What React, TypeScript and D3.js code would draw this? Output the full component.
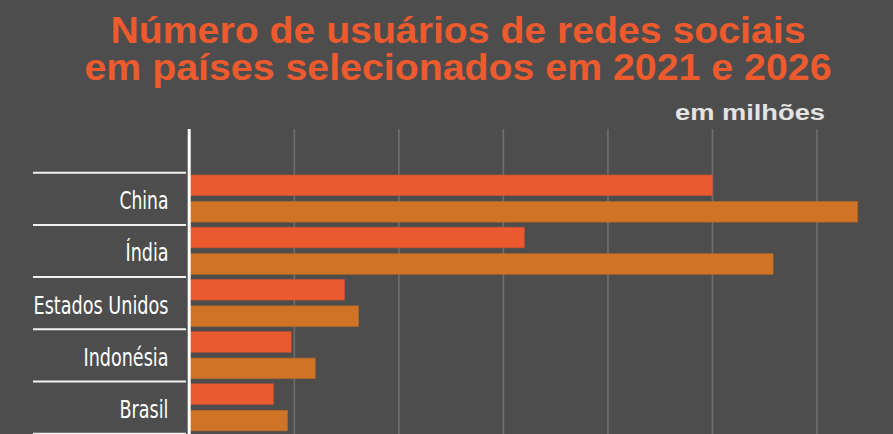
import React from "react";
import * as d3 from "d3";

const countries = ["China", "Índia", "Estados Unidos", "Indonésia", "Brasil"];
const years = ["2021", "2026"];
const values2021 = [1000, 640, 296, 194, 160];
const values2026 = [1278, 1116, 323, 240, 187];
const gridTicks = [200, 400, 600, 800, 1000, 1200];
const titleLines = ["Número de usuários de redes sociais", "em países selecionados em 2021 e 2026"];
const unitLabel = "em milhões";

const W = 893;
const H = 434;
const BG = "#4d4d4d";
const C2021 = "#eb5a2f";
const C2026 = "#cf7427";

export default function App() {
  const x = d3.scaleLinear().domain([0, 1200]).range([189.8, 817]);
  const y = d3.scaleBand<string>().domain(countries).range([172.7, 433.7]).padding(0);
  const inner = d3
    .scaleBand<string>()
    .domain(years)
    .range([2.3, y.bandwidth() - 2.8])
    .paddingInner(0.22);
  const series = [values2021, values2026];
  const colors = [C2021, C2026];
  const labelWidths: Record<string, number> = {
    China: 49,
    "Índia": 43,
    "Estados Unidos": 135,
    "Indonésia": 85,
    Brasil: 49,
  };
  const titleWidths = [695, 747];

  return (
    <svg
      width={W}
      height={H}
      style={{ position: "absolute", left: 0, top: 0, display: "block" }}
    >
      <rect x={0} y={0} width={W} height={H} fill={BG} />
      {titleLines.map((t, i) => (
        <text
          key={t}
          x={458}
          y={43.3 + i * 37}
          textAnchor="middle"
          fontFamily="'Liberation Sans', Arial, sans-serif"
          fontWeight="bold"
          fontSize={37.5}
          fill="#ec5a2e"
          textLength={titleWidths[i]}
          lengthAdjust="spacingAndGlyphs"
        >
          {t}
        </text>
      ))}
      <text
        x={825}
        y={119.5}
        textAnchor="end"
        fontFamily="'Liberation Sans', Arial, sans-serif"
        fontWeight="bold"
        fontSize={22.5}
        fill="#e4e4e4"
        textLength={150}
        lengthAdjust="spacingAndGlyphs"
      >
        {unitLabel}
      </text>
      {gridTicks.map((t) => (
        <line
          key={t}
          x1={x(t)}
          x2={x(t)}
          y1={129}
          y2={H}
          stroke="#6f6f6f"
          strokeWidth={1.6}
        />
      ))}
      {countries.map((c, ci) => (
        <g key={c} transform={`translate(0,${y(c)})`}>
          {series.map((s, si) => (
            <rect
              key={years[si]}
              x={x(0)}
              y={inner(years[si])}
              width={x(s[ci]) - x(0)}
              height={inner.bandwidth()}
              fill={colors[si]}
              stroke={si === 0 ? "#c9502b" : "#b46626"}
              strokeWidth={0.6}
            />
          ))}
          <text
            x={168.5}
            y={y.bandwidth() / 2 + 10.4}
            textAnchor="end"
            fontFamily="'Liberation Sans Narrow', 'DejaVu Sans Condensed', 'Liberation Sans', sans-serif"
            fontSize={24}
            fill="#ffffff"
            textLength={labelWidths[c]}
            lengthAdjust="spacingAndGlyphs"
          >
            {c}
          </text>
        </g>
      ))}
      {[...countries.map((c) => y(c) as number), y.range()[1]].map((yy, i) => (
        <line
          key={i}
          x1={33}
          x2={186}
          y1={yy}
          y2={yy}
          stroke="#f2f2f2"
          strokeWidth={2}
        />
      ))}
      <line x1={189.2} x2={189.2} y1={129} y2={H} stroke="#ffffff" strokeWidth={3} />
    </svg>
  );
}
